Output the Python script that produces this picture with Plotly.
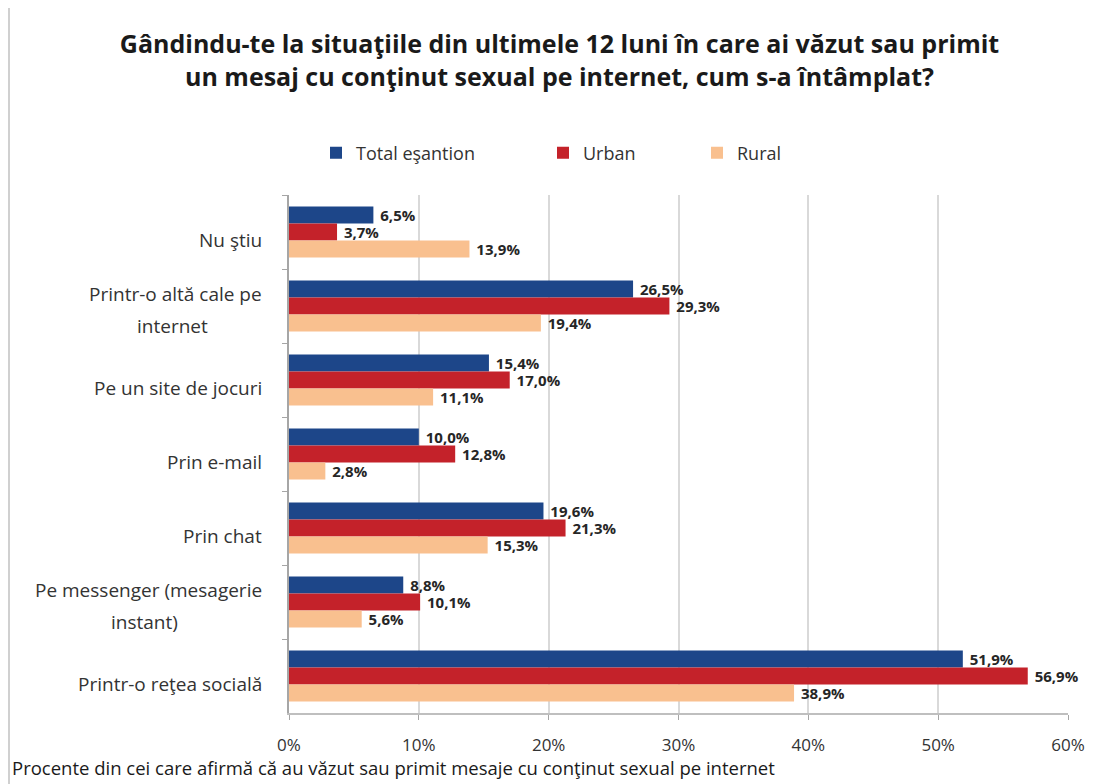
import plotly.graph_objects as go

categories = [
    "Nu ştiu",
    "Printr-o altă cale pe internet",
    "Pe un site de jocuri",
    "Prin e-mail",
    "Prin chat",
    "Pe messenger (mesagerie instant)",
    "Printr-o reţea socială",
]
# how each category label is wrapped on screen
category_lines = [
    ["Nu ştiu"],
    ["Printr-o altă cale pe", "internet"],
    ["Pe un site de jocuri"],
    ["Prin e-mail"],
    ["Prin chat"],
    ["Pe messenger (mesagerie", "instant)"],
    ["Printr-o reţea socială"],
]
series_names = ["Total eşantion", "Urban", "Rural"]
total = [6.5, 26.5, 15.4, 10.0, 19.6, 8.8, 51.9]
urban = [3.7, 29.3, 17.0, 12.8, 21.3, 10.1, 56.9]
rural = [13.9, 19.4, 11.1, 2.8, 15.3, 5.6, 38.9]
x_ticks = [0, 10, 20, 30, 40, 50, 60]
x_tick_labels = ["0%", "10%", "20%", "30%", "40%", "50%", "60%"]
title_text = ("Gândindu-te la situaţiile din ultimele 12 luni în care ai văzut sau primit<br>"
              "un mesaj cu conţinut sexual pe internet, cum s-a întâmplat?")
footnote = "Procente din cei care afirmă că au văzut sau primit mesaje cu conţinut sexual pe internet"

colors = ["#1d4689", "#c4222a", "#f9c08f"]
FONT = "Open Sans"
TXT = "#333333"

OFF = 8                      # page body margin
W, H = 1111 - OFF, 784 - OFF  # figure size
# plot area in screen pixels
X0, X1, Y0, Y1 = 289, 1068, 195, 713
L, R, T, B = X0 - OFF, W - (X1 - OFF), Y0 - OFF, H - (Y1 - OFF)
PW, PH = W - L - R, H - T - B


def px_x(sx):  # screen x -> paper x
    return (sx - X0) / PW


def px_y(sy):  # screen y -> paper y
    return (Y1 - sy) / PH


fig = go.Figure()
for name, vals, col, leg in zip(series_names, [total, urban, rural], colors,
                                ["legend", "legend2", "legend3"]):
    fig.add_trace(go.Bar(
        y=categories, x=vals, orientation="h", name=name, legend=leg, showlegend=True,
        marker=dict(color=col, line=dict(width=0)),
        text=["\u00a0" + f"{v:.1f}%".replace(".", ",") for v in vals],
        textposition="outside", cliponaxis=False, constraintext="none",
        textfont=dict(family=FONT, size=15, color="#262626", weight="bold"),
    ))

# centre of first line for wrapped labels (screen px)
wrap_center = {1: 172, 5: 144}
annotations = []
for i, (c, lines) in enumerate(zip(categories, category_lines)):
    if len(lines) == 1:
        annotations.append(dict(
            xref="paper", yref="y", x=px_x(264), y=c, xanchor="right", yanchor="middle",
            text=lines[0], showarrow=False, yshift=-8,
            font=dict(family=FONT, size=19, color=TXT)))
    else:
        annotations.append(dict(
            xref="paper", yref="y", x=px_x(264), y=c, xanchor="right", yanchor="middle",
            text=lines[0], showarrow=False, yshift=12,
            font=dict(family=FONT, size=19, color=TXT)))
        annotations.append(dict(
            xref="paper", yref="y", x=px_x(wrap_center[i]), y=c, xanchor="center", yanchor="middle",
            text=lines[1], showarrow=False, yshift=-20,
            font=dict(family=FONT, size=19, color=TXT)))
annotations.append(dict(
    xref="paper", yref="paper", x=px_x(10), y=px_y(767),
    xanchor="left", yanchor="middle", text=footnote, showarrow=False,
    font=dict(family=FONT, size=18.5, color="#1a1a1a")))


def legend_cfg(marker_center_sx):
    return dict(orientation="h", xref="container", yref="container",
                x=(marker_center_sx - OFF - 20) / W, xanchor="left",
                y=1 - (153 - OFF) / H, yanchor="middle",
                font=dict(family=FONT, size=18, color=TXT), bgcolor="rgba(0,0,0,0)")


fig.update_layout(
    width=W, height=H, showlegend=True,
    margin=dict(l=L, r=R, t=T, b=B, autoexpand=False),
    paper_bgcolor="white", plot_bgcolor="white",
    barmode="group", bargap=0.31, bargroupgap=0,
    title=dict(text=title_text, x=0.5, xref="container", xanchor="center",
               y=1 - 45 / H, yanchor="middle",
               font=dict(family=FONT, size=25, color="#1a1a1a", weight="bold")),
    legend=legend_cfg(336),
    legend2=legend_cfg(563),
    legend3=legend_cfg(717),
    xaxis=dict(range=[0, 60], tickvals=x_ticks, ticktext=x_tick_labels,
               showgrid=True, gridcolor="#d9d9d9", gridwidth=1.5,
               showline=True, linecolor="#bfbfbf", linewidth=1.5,
               ticks="outside", ticklen=5, tickcolor="#a6a6a6",
               ticklabelstandoff=11, zeroline=False,
               tickfont=dict(family=FONT, size=17, color=TXT)),
    yaxis=dict(autorange="reversed", showticklabels=False,
               showline=True, linecolor="#a6a6a6", linewidth=1.5,
               ticks="outside", tickson="boundaries", ticklen=5, tickcolor="#a6a6a6",
               showgrid=False),
    annotations=annotations,
    shapes=[dict(type="line", xref="paper", yref="paper",
                 x0=px_x(9), x1=px_x(9), y0=px_y(784), y1=px_y(8),
                 line=dict(color="#d0d0d0", width=2))],
)
fig.write_html("out.html")
